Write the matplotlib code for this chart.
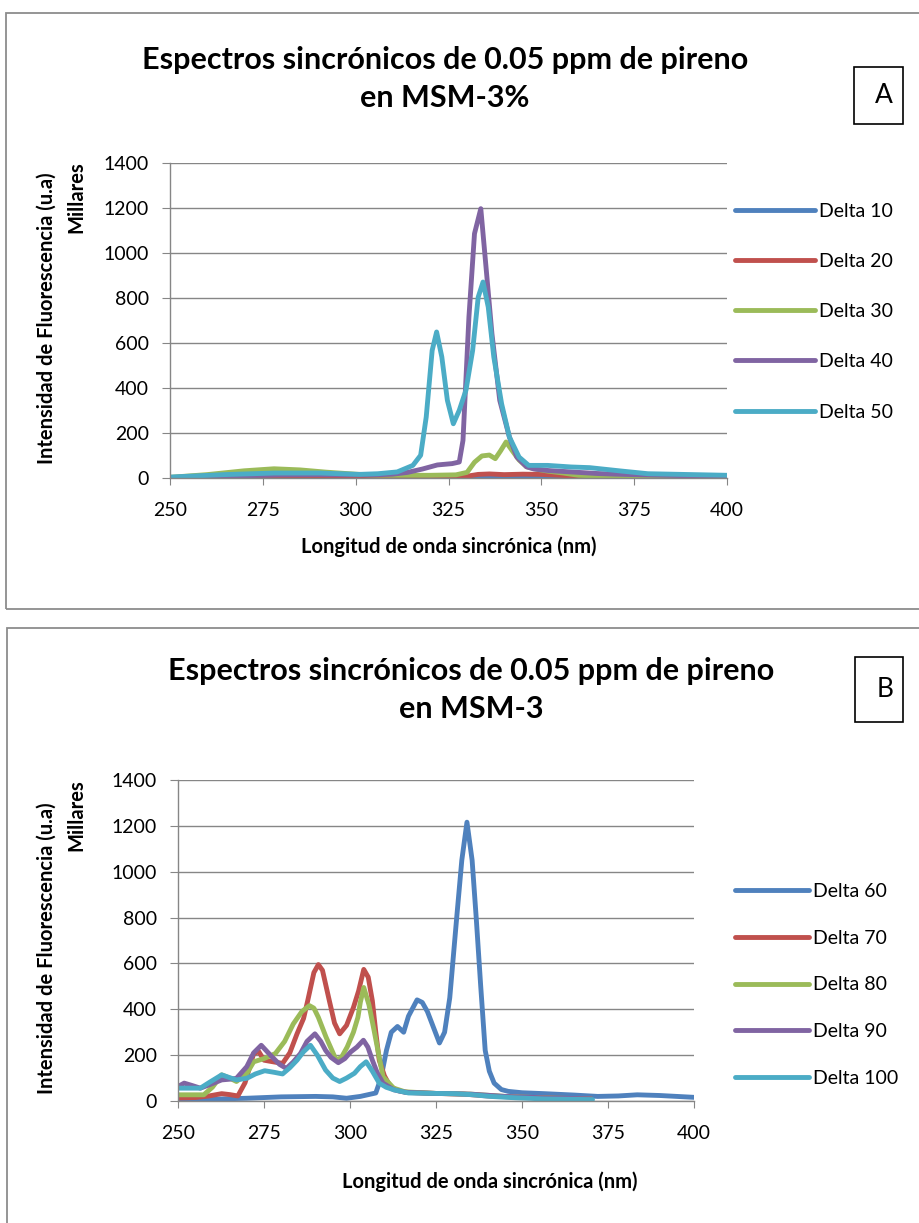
"""
Espectros sincrónicos de pireno en MSM-3 (paneles A y B)
"""
import matplotlib
matplotlib.use('Agg')
import matplotlib.pyplot as plt
from matplotlib.patches import Rectangle

plt.rcParams['font.family'] = ['Lato', 'DejaVu Sans']

# colores tipo Excel
colores = ['#4F81BD', '#C0504D', '#9BBB59', '#8064A2', '#4BACC6']

# ---- Panel A: delta 10..50 ----
etiquetas_a = ['Delta 10', 'Delta 20', 'Delta 30', 'Delta 40', 'Delta 50']

d10_x = [250, 275, 300, 325, 340, 350, 353, 358, 370, 400]
d10_y = [0, 2, 2, 2, 3, 6, 10, 5, 3, 2]

d20_x = [250, 300, 325, 330, 333, 336, 340, 345, 350, 355, 360, 370, 400]
d20_y = [0, 2, 3, 8, 16, 18, 15, 17, 16, 12, 7, 3, 1]

d30_x = [250, 260, 270, 278, 285, 292, 300, 305, 310, 320, 327, 330, 332, 334, 336,
         337.6, 339, 340.5, 342, 344, 346, 349, 352, 356, 360, 370, 380, 400]
d30_y = [3, 15, 32, 41, 36, 26, 17, 13, 12, 12, 14, 25, 70, 98, 102,
         86, 120, 160, 125, 80, 50, 38, 30, 22, 12, 6, 4, 3]

d40_x = [250, 260, 270, 280, 290, 300, 305, 310, 314, 318, 322, 326, 327.9, 328.9,
         330.5, 332, 333.7, 335.1, 336.7, 338.8, 341.4, 343.4, 346, 348, 352, 358,
         365, 370, 380, 390, 400]
d40_y = [2, 6, 10, 14, 15, 14, 14, 17, 25, 40, 58, 64, 71, 167,
         715, 1086, 1197, 938, 641, 345, 182, 93, 50, 40, 33, 27,
         20, 17, 13, 10, 8]

d50_x = [250, 264.5, 278, 290.5, 300.9, 306, 311.2, 315.4, 317.5, 319, 320.6, 321.8,
         323.2, 324.7, 326.3, 327.9, 329.7, 331.5, 333, 334.3, 335.7, 337.2, 339.3,
         341.4, 344, 346.6, 351.7, 358, 363, 371.5, 378.7, 400]
d50_y = [4, 15, 22, 22, 16, 19, 27, 56, 101, 271, 567, 649,
         538, 345, 241, 301, 390, 567, 804, 871, 760, 538, 330,
         182, 93, 56, 56, 49, 46, 31, 19, 12]

# ---- Panel B: delta 60..100 ----
etiquetas_b = ['Delta 60', 'Delta 70', 'Delta 80', 'Delta 90', 'Delta 100']

d60_x = [250, 260, 270, 280, 290, 295, 299, 303, 307.5, 309, 310.6, 312, 313.8, 315.6,
         317, 319.5, 321, 322.5, 326, 327.5, 329, 331, 332.5, 334, 335.5, 336.7, 338,
         339.3, 340.5, 341.9, 344, 346, 350, 356.5, 365, 372, 378, 383.5, 390, 400]
d60_y = [3, 8, 12, 18, 20, 18, 12, 20, 35, 100, 221, 300, 325, 300,
         370, 441, 430, 390, 253, 300, 450, 797, 1050, 1216, 1050, 797, 500,
         221, 130, 78, 50, 42, 36, 32, 26, 20, 22, 27, 24, 16]

d70_x = [250, 255, 259, 262.7, 265, 267.4, 269.5, 272, 273.5, 275, 278, 280.4, 282.5,
         284.6, 286.5, 287.7, 289.5, 290.8, 292, 294, 295.5, 297, 299, 301, 302.5, 304,
         305.3, 306.5, 307.5, 308.5, 310, 311.7, 314, 317, 325, 333, 340, 350, 360, 370]
d70_y = [13, 15, 22, 32, 28, 22, 80, 207, 215, 178, 170, 164, 210,
         293, 360, 437, 560, 595, 570, 437, 340, 293, 330, 408, 480, 574,
         540, 437, 300, 178, 110, 63, 45, 37, 33, 30, 22, 16, 12, 10]

d80_x = [250, 257.5, 260, 262.7, 265, 267, 270, 272, 275, 278.3, 281, 283.5, 286,
         288.2, 289.5, 290.8, 293, 296, 297.5, 299.2, 301, 302.3, 303, 304, 305.5, 307,
         308.5, 309.6, 312.7, 316, 325, 335, 345, 360, 370]
d80_y = [27, 27, 60, 114, 100, 85, 120, 171, 185, 207, 260, 336, 390,
         416, 405, 365, 280, 178, 190, 236, 300, 365, 430, 495, 420, 308,
         190, 106, 56, 40, 33, 30, 20, 12, 10]

d90_x = [250, 251.8, 254, 256.5, 259, 262.7, 265, 267, 270, 272, 274.2, 277.3, 279.5,
         281.5, 283.5, 285.6, 287.5, 289.8, 291.5, 292.9, 294.5, 296.6, 298.5, 300.2,
         302, 303.9, 305.2, 306.5, 308, 309.6, 312.7, 316, 325, 335, 345, 360, 370]
d90_y = [63, 78, 68, 56, 70, 92, 95, 99, 150, 210, 243, 193, 160,
         142, 170, 207, 260, 293, 260, 221, 190, 167, 185, 214,
         235, 265, 235, 178, 120, 78, 49, 38, 33, 30, 20, 12, 10]

d100_x = [250, 256.5, 259, 262.7, 265, 267, 270, 272.5, 275.2, 278, 280.4, 282.5,
          284.6, 286.5, 288.5, 290.5, 292.9, 295, 297, 299, 301.3, 303, 304.7, 306.5,
          308.5, 310.5, 312.7, 317, 325, 330.4, 335, 340.8, 348, 356.5, 370.5]
d100_y = [56, 56, 80, 114, 102, 92, 99, 118, 132, 125, 118, 145,
          178, 215, 243, 200, 135, 100, 85, 100, 121, 150, 171, 130,
          78, 60, 49, 35, 33, 32, 28, 20, 14, 9, 6]

series_a = [(d10_x, d10_y), (d20_x, d20_y), (d30_x, d30_y), (d40_x, d40_y), (d50_x, d50_y)]
series_b = [(d60_x, d60_y), (d70_x, d70_y), (d80_x, d80_y), (d90_x, d90_y), (d100_x, d100_y)]

xticks = [250, 275, 300, 325, 350, 375, 400]
yticks = [0, 200, 400, 600, 800, 1000, 1200, 1400]

W, H = 920, 1223
fig = plt.figure(figsize=(W / 100, H / 100), dpi=100)


def fx(px):
    return px / W


def fy(py):
    return 1 - py / H


gris = '#868686'


def panel(caja, ejes, series, etiquetas, titulo, letra, letra_caja, ylab_y, mill_y,
          xlab_pos, leg_pos, leg_sp, leg_hl):
    # marco del panel
    x0, y0, x1, y1 = caja
    fig.patches.append(Rectangle((fx(x0), fy(y1)), fx(x1 - x0), (y1 - y0) / H,
                                 transform=fig.transFigure, fill=False,
                                 edgecolor='#8c8c8c', lw=1.3))
    l, r, t, b = ejes
    ax = fig.add_axes([fx(l), fy(b), fx(r - l), (b - t) / H])
    for (xs, ys), c, lab in zip(series, colores, etiquetas):
        ax.plot(xs, ys, color=c, lw=3.5, label=lab, solid_capstyle='round',
                solid_joinstyle='round')
    ax.set_xlim(250, 400)
    ax.set_ylim(0, 1400)
    ax.set_xticks(xticks)
    ax.set_yticks(yticks)
    ax.grid(axis='y', color=gris, lw=1.0)
    ax.set_axisbelow(True)
    for s in ['top', 'right']:
        ax.spines[s].set_visible(False)
    for s in ['left', 'bottom']:
        ax.spines[s].set_color(gris)
        ax.spines[s].set_linewidth(1.0)
    ax.tick_params(axis='y', length=6, color=gris, labelsize=14, pad=9)
    ax.tick_params(axis='x', length=5, color=gris, labelsize=14, pad=12)

    # títulos y etiquetas
    fig.text(fx(titulo[1]), fy(titulo[2]), titulo[0], ha='center', va='center',
             fontsize=22, fontweight='bold', linespacing=1.4)
    fig.text(fx(47), fy(ylab_y), 'Intensidad de Fluorescencia (u.a)', rotation=90,
             ha='center', va='center', fontsize=14.5, fontweight='bold')
    fig.text(fx(76), fy(mill_y), 'Millares', rotation=90,
             ha='center', va='center', fontsize=14.5, fontweight='bold')
    fig.text(fx(xlab_pos[0]), fy(xlab_pos[1]), 'Longitud de onda sincrónica (nm)',
             ha='center', va='center', fontsize=14.5, fontweight='bold')

    # cuadro con letra
    bx0, by0, bx1, by1 = letra_caja
    fig.patches.append(Rectangle((fx(bx0), fy(by1)), fx(bx1 - bx0), (by1 - by0) / H,
                                 transform=fig.transFigure, fill=False,
                                 edgecolor='black', lw=1.2))
    fig.text(fx(bx0 + 30), fy((by0 + by1) / 2), letra, ha='center', va='center',
             fontsize=19)

    ax.legend(loc='center left', bbox_to_anchor=(fx(leg_pos[0]), fy(leg_pos[1])),
              bbox_transform=fig.transFigure, frameon=False, fontsize=14,
              handlelength=leg_hl, handletextpad=0.2, labelspacing=leg_sp,
              borderpad=0, borderaxespad=0)
    return ax


panel((6, 13, 930, 609), (170, 727, 163, 478), series_a, etiquetas_a,
      ('Espectros sincrónicos de 0.05 ppm de pireno\nen MSM-3%', 445, 79),
      'A', (854, 67, 903, 124), 318, 197, (449, 547), (735, 311.5), 1.71, 4.1)

panel((7, 628, 930, 1240), (178, 694, 780, 1101), series_b, etiquetas_b,
      ('Espectros sincrónicos de 0.05 ppm de pireno\nen MSM-3', 471, 690),
      'B', (855, 657, 903, 722), 948, 815, (490, 1182), (735, 985), 1.53, 3.8)

plt.savefig('out.png', dpi=100)
print('Saved: out.png')
